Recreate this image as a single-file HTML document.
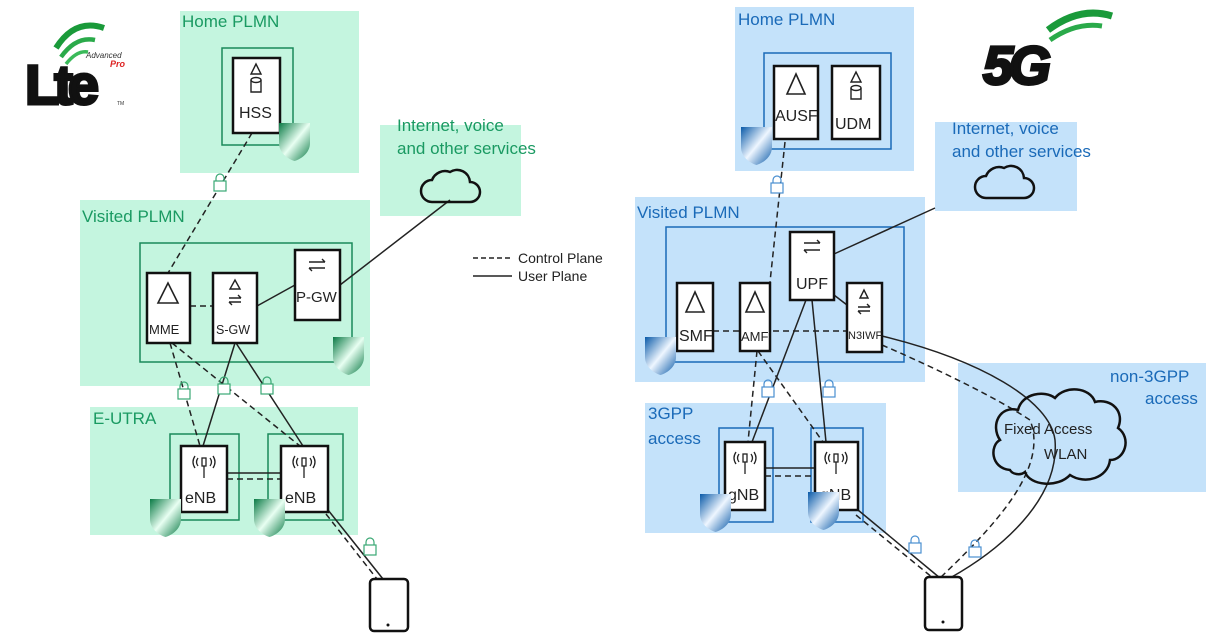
<!DOCTYPE html>
<html><head><meta charset="utf-8"><style>
html,body{margin:0;padding:0;background:#fff;width:1212px;height:636px;overflow:hidden}
svg{display:block}
text{font-family:"Liberation Sans","DejaVu Sans",sans-serif}
</style></head><body>
<svg width="1212" height="636" viewBox="0 0 1212 636" xmlns="http://www.w3.org/2000/svg">
<defs>
<linearGradient id="gg" x1="0" y1="0" x2="1" y2="1"><stop offset="0" stop-color="#0a7a45"/><stop offset="0.5" stop-color="#e8fff2"/><stop offset="1" stop-color="#0a7a45"/></linearGradient>
<linearGradient id="bg" x1="0" y1="0" x2="1" y2="1"><stop offset="0" stop-color="#0a5aa8"/><stop offset="0.5" stop-color="#eef6ff"/><stop offset="1" stop-color="#0a5aa8"/></linearGradient>
<path id="shG" d="M0,0 H31 V20 C31,30 22,36 15.5,38 C9,36 0,30 0,20 Z" fill="url(#gg)"/>
<path id="shB" d="M0,0 H31 V20 C31,30 22,36 15.5,38 C9,36 0,30 0,20 Z" fill="url(#bg)"/>
<g id="lkG" fill="none" stroke="#3aa874" stroke-width="1.2"><path d="M2,6 V3 A4,4 0 0 1 10,3 V6"/><rect x="0" y="6" width="12" height="10" fill="#fff"/></g>
<g id="lkB" fill="none" stroke="#4a8fd0" stroke-width="1.2"><path d="M2,6 V3 A4,4 0 0 1 10,3 V6"/><rect x="0" y="6" width="12" height="10" fill="#fff"/></g>
<g id="ant" fill="none" stroke="#222" stroke-width="1.3"><rect x="-2" y="-6" width="4" height="8"/><line x1="0" y1="2" x2="0" y2="14"/><path d="M-6,-6 Q-9,-2 -6,2 M6,-6 Q9,-2 6,2 M-9,-8 Q-13,-2 -9,4 M9,-8 Q13,-2 9,4"/></g>
</defs>

<g fill="#c4f5df">
<rect x="180" y="11" width="179" height="162"/>
<rect x="380" y="125" width="141" height="91"/>
<rect x="80" y="200" width="290" height="186"/>
<rect x="90" y="407" width="268" height="128"/>
</g>
<g fill="none" stroke="#1a8a5a" stroke-width="1.5">
<rect x="222" y="48" width="71" height="97"/>
<rect x="140" y="243" width="212" height="119"/>
<rect x="170" y="434" width="69" height="86"/>
<rect x="268" y="434" width="75" height="86"/>
</g>
<g fill="#1a9a62" font-size="17">
<text x="182" y="27">Home PLMN</text>
<text x="397" y="131">Internet, voice</text>
<text x="397" y="154">and other services</text>
<text x="82" y="222">Visited PLMN</text>
<text x="93" y="424">E-UTRA</text>
</g>
<g>
<path d="M56,48 Q75,18 104,28" fill="none" stroke="#1a9a3a" stroke-width="6"/>
<path d="M61,57 Q76,36 95,40" fill="none" stroke="#2aaa4a" stroke-width="4.5"/>
<path d="M66,64 Q77,50 88,52" fill="none" stroke="#3aba5a" stroke-width="3.5"/>
<text x="25" y="104" font-size="56" font-weight="bold" fill="#111" stroke="#111" stroke-width="3" letter-spacing="-5">Lte</text>
<text x="86" y="58" font-size="8" font-style="italic" fill="#333">Advanced</text>
<text x="110" y="67" font-size="9" font-style="italic" font-weight="bold" fill="#d22">Pro</text>
<text x="117" y="105" font-size="5" fill="#333">TM</text>
</g>
<g stroke="#222" stroke-width="1.5" fill="none">
<path d="M252,133 L168,273" stroke-dasharray="6,4"/>
<path d="M190,306 L213,306" stroke-dasharray="6,4"/>
<path d="M257,306 L295,285"/>
<path d="M340,285 L450,200"/>
<path d="M170,343 L200,446" stroke-dasharray="6,4"/>
<path d="M172,343 L300,446" stroke-dasharray="6,4"/>
<path d="M235,343 L203,446"/>
<path d="M236,343 L303,446"/>
<path d="M227,473 L281,473"/>
<path d="M227,479 L281,479" stroke-dasharray="6,4"/>
<path d="M328,510 L383,579"/>
<path d="M326,514 L377,579" stroke-dasharray="6,4"/>
</g>
<use href="#lkG" x="214" y="175"/>
<use href="#lkG" x="178" y="383"/>
<use href="#lkG" x="218" y="378"/>
<use href="#lkG" x="261" y="378"/>
<use href="#lkG" x="364" y="539"/>
<path d="M432,202 H470 A10,10 0 0 0 470,182 A13,13 0 0 0 450,172 A14,14 0 0 0 432,180 A11,11 0 0 0 432,202 Z" fill="none" stroke="#111" stroke-width="2.5"/>
<g fill="#fff" stroke="#111" stroke-width="2.5">
<rect x="233" y="58" width="47" height="75"/>
<rect x="147" y="273" width="43" height="70"/>
<rect x="213" y="273" width="44" height="70"/>
<rect x="295" y="250" width="45" height="70"/>
<rect x="181" y="446" width="46" height="66"/>
<rect x="281" y="446" width="47" height="66"/>
<rect x="370" y="579" width="38" height="52" rx="4"/>
</g>
<circle cx="388" cy="625" r="1.5" fill="#111"/>
<g fill="none" stroke="#222" stroke-width="1.4">
<path d="M256,64 L251,74 H261 Z"/><path d="M251,80 V92 H261 V80"/><ellipse cx="256" cy="80" rx="5" ry="2.5"/>
<path d="M168,283 L158,303 H178 Z" stroke-width="1.6"/>
<path d="M235,280 L230,289 H240 Z"/><path d="M229,298 H241 M238,295 L241,298 M229,302 H241 M232,305 L229,302"/>
<path d="M309,262 H325 M322,259 L325,262 M309,268 H325 M312,271 L309,268"/>
</g>
<use href="#ant" x="204" y="464"/><use href="#ant" x="304" y="464"/>
<g fill="#222" font-size="16">
<text x="239" y="118">HSS</text>
<text x="149" y="334" font-size="13">MME</text>
<text x="216" y="334" font-size="12.5">S-GW</text>
<text x="296" y="302" font-size="15">P-GW</text>
<text x="185" y="503">eNB</text>
<text x="285" y="503">eNB</text>
</g>
<use href="#shG" x="279" y="123"/>
<use href="#shG" x="333" y="337"/>
<use href="#shG" x="150" y="499"/>
<use href="#shG" x="254" y="499"/>

<g stroke="#222" stroke-width="1.5"><line x1="473" y1="258" x2="512" y2="258" stroke-dasharray="5,3"/><line x1="473" y1="276" x2="512" y2="276"/></g>
<g font-size="14" fill="#222"><text x="518" y="263">Control Plane</text><text x="518" y="281">User Plane</text></g>

<g fill="#c4e2fa">
<rect x="735" y="7" width="179" height="164"/>
<rect x="935" y="122" width="142" height="89"/>
<rect x="635" y="197" width="290" height="185"/>
<rect x="645" y="403" width="241" height="130"/>
<rect x="958" y="363" width="248" height="129"/>
</g>
<g fill="none" stroke="#1a6ab8" stroke-width="1.5">
<rect x="764" y="53" width="127" height="96"/>
<rect x="666" y="227" width="238" height="135"/>
<rect x="719" y="428" width="54" height="94"/>
<rect x="811" y="428" width="52" height="94"/>
</g>
<g fill="#1a6ab8" font-size="17">
<text x="738" y="25">Home PLMN</text>
<text x="952" y="134">Internet, voice</text>
<text x="952" y="157">and other services</text>
<text x="637" y="218">Visited PLMN</text>
<text x="648" y="419">3GPP</text>
<text x="648" y="444">access</text>
<text x="1110" y="382">non-3GPP</text>
<text x="1145" y="404">access</text>
</g>
<path d="M1048,30 Q1080,6 1112,16" fill="none" stroke="#1a9a3a" stroke-width="7"/>
<path d="M1050,40 Q1076,22 1102,26" fill="none" stroke="#2aaa4a" stroke-width="5"/>
<text x="983" y="84" font-size="54" font-weight="bold" font-style="italic" fill="#111" stroke="#111" stroke-width="3" letter-spacing="-4">5G</text>
<g stroke="#222" stroke-width="1.5" fill="none">
<path d="M785,142 L770,282" stroke-dasharray="6,4"/>
<path d="M713,331 L847,331" stroke-dasharray="6,4"/>
<path d="M834,254 L935,208"/>
<path d="M834,295 L847,305"/>
<path d="M757,351 L748,442" stroke-dasharray="6,4"/>
<path d="M758,351 L823,442" stroke-dasharray="6,4"/>
<path d="M806,300 L752,442"/>
<path d="M812,300 L826,442"/>
<path d="M765,468 L815,468"/>
<path d="M765,476 L815,476" stroke-dasharray="6,4"/>
<path d="M858,510 L940,578"/>
<path d="M856,515 L933,578" stroke-dasharray="6,4"/>
<path d="M882,336 C980,360 1050,400 1055,440 C1060,500 1000,550 950,578"/>
<path d="M882,345 C940,370 1000,400 1030,420 C1050,470 990,530 940,578" stroke-dasharray="6,4"/>
</g>
<use href="#lkB" x="771" y="177"/>
<use href="#lkB" x="762" y="381"/>
<use href="#lkB" x="823" y="381"/>
<use href="#lkB" x="909" y="537"/>
<use href="#lkB" x="969" y="541"/>
<path d="M986,198 H1024 A10,10 0 0 0 1024,178 A13,13 0 0 0 1004,168 A14,14 0 0 0 986,176 A11,11 0 0 0 986,198 Z" fill="none" stroke="#111" stroke-width="2.5"/>
<path d="M1010,470 C990,468 990,445 1000,440 C990,425 1000,405 1018,410 C1022,393 1045,390 1055,398 C1065,385 1090,387 1095,402 C1112,398 1125,412 1118,428 C1132,438 1125,460 1110,460 C1108,478 1085,485 1070,475 C1058,488 1030,486 1025,472 C1020,476 1012,474 1010,470 Z" fill="none" stroke="#111" stroke-width="2.5"/>
<g font-size="15" fill="#222"><text x="1004" y="434">Fixed Access</text><text x="1044" y="459">WLAN</text></g>
<g fill="#fff" stroke="#111" stroke-width="2.5">
<rect x="774" y="66" width="44" height="73"/>
<rect x="832" y="66" width="48" height="73"/>
<rect x="677" y="283" width="36" height="68"/>
<rect x="740" y="283" width="30" height="68"/>
<rect x="790" y="232" width="44" height="68"/>
<rect x="847" y="283" width="35" height="69"/>
<rect x="725" y="442" width="40" height="68"/>
<rect x="815" y="442" width="43" height="68"/>
<rect x="925" y="577" width="37" height="53" rx="4"/>
</g>
<circle cx="943" cy="622" r="1.5" fill="#111"/>
<g fill="none" stroke="#222" stroke-width="1.4">
<path d="M796,74 L787,94 H805 Z" stroke-width="1.6"/>
<path d="M856,72 L851,82 H861 Z"/><path d="M851,88 V99 H861 V88"/><ellipse cx="856" cy="88" rx="5" ry="2.5"/>
<path d="M695,292 L686,312 H704 Z" stroke-width="1.6"/>
<path d="M755,292 L746,312 H764 Z" stroke-width="1.6"/>
<path d="M804,243 H820 M817,240 L820,243 M804,250 H820 M807,253 L804,250"/>
<path d="M864,290 L860,298 H868 Z"/><path d="M858,307 H870 M867,304 L870,307 M858,311 H870 M861,314 L858,311"/>
</g>
<use href="#ant" x="745" y="460"/><use href="#ant" x="836" y="460"/>
<g fill="#222" font-size="16">
<text x="775" y="121">AUSF</text>
<text x="835" y="129">UDM</text>
<text x="679" y="341">SMF</text>
<text x="741" y="341" font-size="13">AMF</text>
<text x="796" y="289">UPF</text>
<text x="848" y="339" font-size="11">N3IWF</text>
<text x="728" y="500">gNB</text>
<text x="820" y="500">gNB</text>
</g>
<use href="#shB" x="741" y="127"/>
<use href="#shB" x="645" y="337"/>
<use href="#shB" x="700" y="494"/>
<use href="#shB" x="808" y="492"/>
</svg>
</body></html>
